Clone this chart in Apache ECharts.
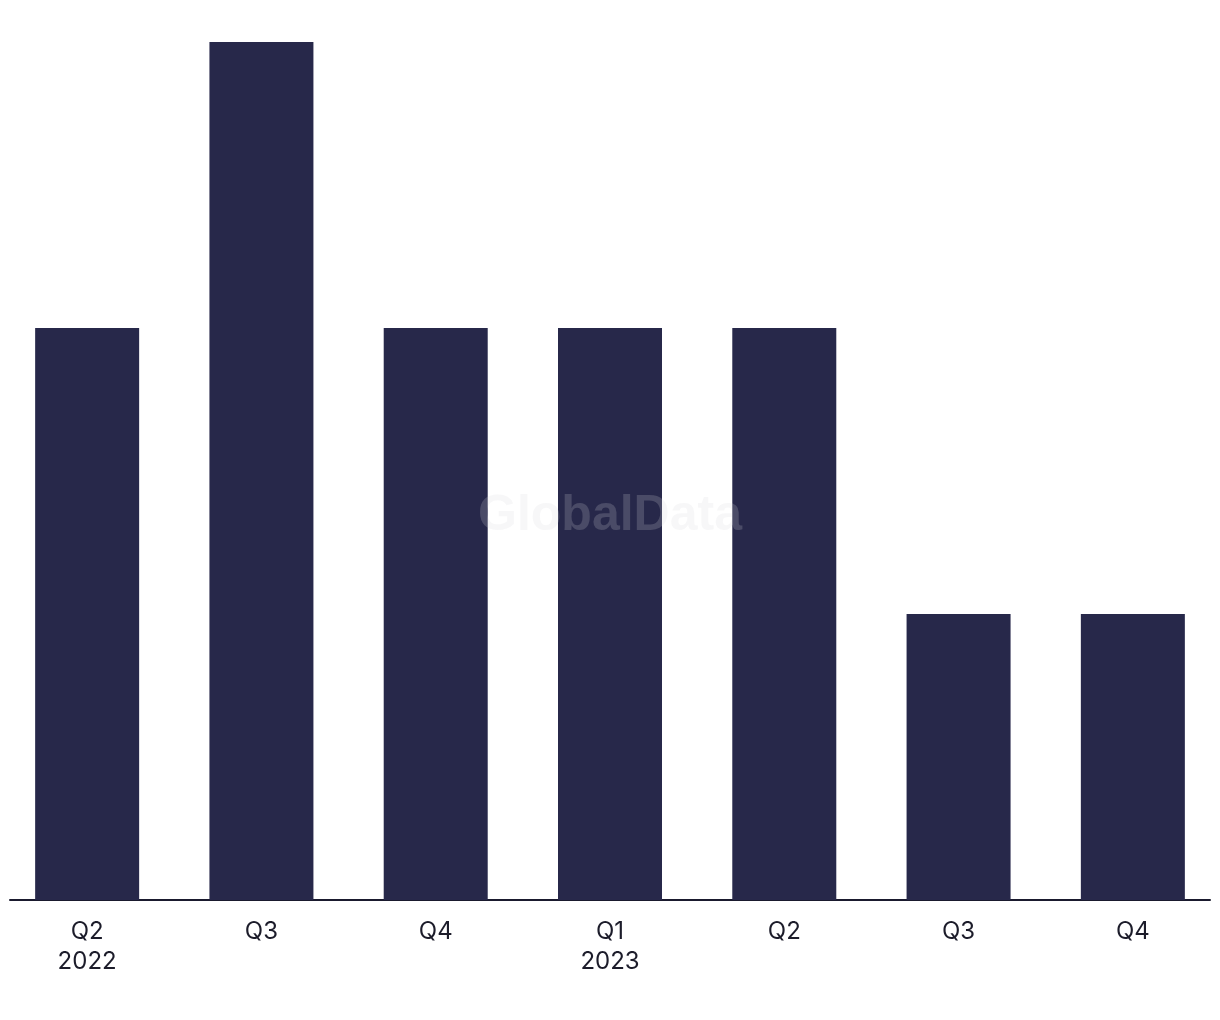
<!DOCTYPE html>
<html>
<head>
<meta charset="utf-8">
<script src="https://cdn.jsdelivr.net/npm/echarts@6/dist/echarts.min.js"></script>
<style>
  html, body { margin: 0; padding: 0; background: #fff; }
  #chart { width: 1220px; height: 1020px; }
</style>
</head>
<body>
<div id="chart"></div>
<script>
// quarters on the x axis (second line = year, only where it changes)
const categories = ['Q2\n2022', 'Q3', 'Q4', 'Q1\n2023', 'Q2', 'Q3', 'Q4']
const values = [2, 3, 2, 2, 2, 1, 1]

const chart = echarts.init(document.getElementById('chart'))

const option = {
  animation: false,
  // watermark
  title: {
    text: 'GlobalData',
    left: 'center',
    top: 486,
    textStyle: {
      fontFamily: 'Liberation Sans',
      fontWeight: 'bold',
      fontSize: 50,
      color: 'rgba(214,214,222,0.2)'
    },
    z: 10
  },
  grid: [
    // bars
    { left: -3.5, width: 1225, top: 42, bottom: 120 },
    // baseline only
    { left: 10, right: 10, top: 42, bottom: 120 }
  ],
  xAxis: [
    {
      type: 'category',
      gridIndex: 0,
      data: categories,
      axisLine: { show: false },
      axisTick: { show: false },
      axisLabel: {
        margin: 17,
        fontFamily: 'Inter',
        fontSize: 24,
        lineHeight: 30,
        color: '#1c1c2a'
      }
    },
    {
      type: 'category',
      gridIndex: 1,
      data: [],
      axisLine: { show: true, lineStyle: { color: '#1a1a2e', width: 2 } },
      axisTick: { show: false },
      axisLabel: { show: false }
    }
  ],
  yAxis: [
    { type: 'value', gridIndex: 0, min: 0, max: 3, show: false },
    { type: 'value', gridIndex: 1, min: 0, max: 3, show: false }
  ],
  series: [{
    type: 'bar',
    xAxisIndex: 0,
    yAxisIndex: 0,
    data: values,
    barWidth: 104,
    itemStyle: { color: '#27284a' }
  }]
}
chart.setOption(option)
</script>
</body>
</html>
